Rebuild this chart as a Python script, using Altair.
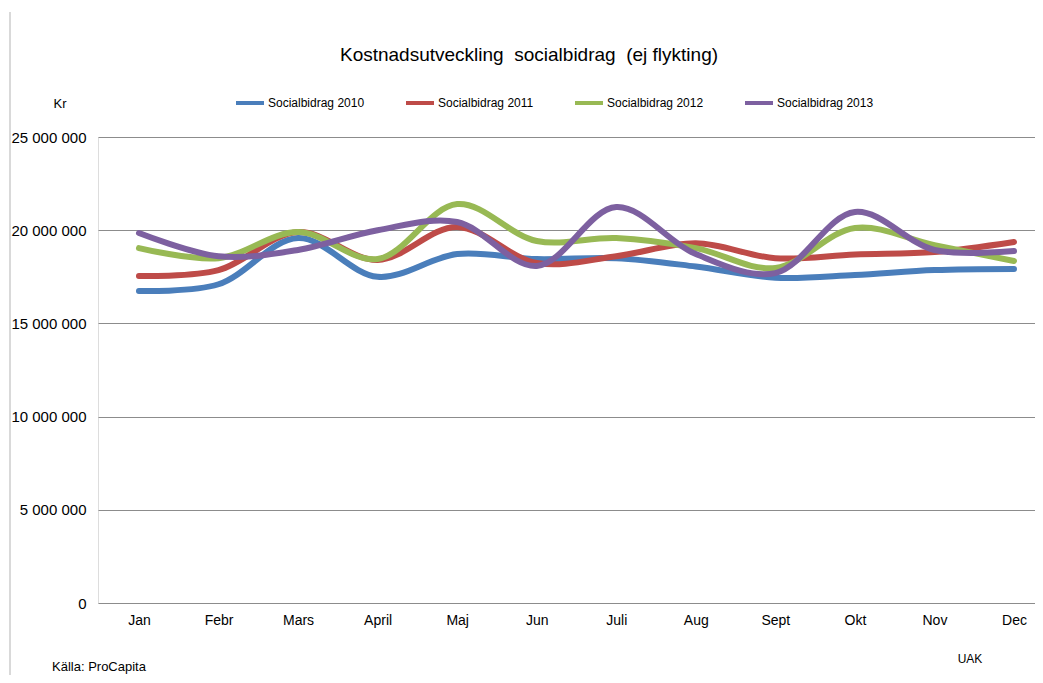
import altair as alt
import pandas as pd

months = ["Jan", "Febr", "Mars", "April", "Maj", "Jun", "Juli", "Aug", "Sept", "Okt", "Nov", "Dec"]
series_names = ["Socialbidrag 2010", "Socialbidrag 2011", "Socialbidrag 2012", "Socialbidrag 2013"]
s2010 = [16.74, 17.1, 19.58, 17.5, 18.72, 18.45, 18.5, 18.05, 17.45, 17.6, 17.86, 17.92]
s2011 = [17.54, 17.86, 19.9, 18.4, 20.17, 18.24, 18.6, 19.3, 18.5, 18.7, 18.83, 19.37]
s2012 = [19.04, 18.5, 19.9, 18.45, 21.4, 19.42, 19.58, 19.04, 17.97, 20.12, 19.2, 18.35]
s2013 = [19.85, 18.6, 18.94, 20.0, 20.44, 18.08, 21.24, 18.72, 17.7, 20.98, 18.94, 18.88]
colors = ["#4A7EBB", "#BE4B48", "#98B954", "#7D60A0"]
y_ticks = [0, 5000000, 10000000, 15000000, 20000000, 25000000]

rows = []
for name, vals in zip(series_names, [s2010, s2011, s2012, s2013]):
    for i, v in enumerate(vals):
        rows.append({"serie": name, "idx": i, "manad": months[i], "kr": v * 1_000_000})
df = pd.DataFrame(rows)

W, H = 937, 466
FONT = "Liberation Sans"

month_expr = "[" + ",".join(f"'{m}'" for m in months) + "][datum.value]"

lines = alt.Chart(df).mark_line(
    interpolate="catmull-rom", strokeWidth=6, strokeCap="round"
).encode(
    x=alt.X("idx:Q", scale=alt.Scale(domain=[-0.515, 11.264], nice=False, zero=False),
            axis=alt.Axis(values=list(range(12)), labelExpr=month_expr, title=None,
                          grid=False, domain=False, ticks=False, labelPadding=10,
                          labelFontSize=14, labelFont=FONT, labelColor="#000000")),
    y=alt.Y("kr:Q", scale=alt.Scale(domain=[0, 25000000], nice=False),
            axis=alt.Axis(values=y_ticks, title=None, domain=False, ticks=False,
                          grid=True, gridColor="#8C8C8C", gridWidth=1,
                          labelPadding=12, labelFontSize=15, labelFont=FONT,
                          labelColor="#000000",
                          labelExpr="replace(format(datum.value, ','), /,/g, ' ')")),
    color=alt.Color("serie:N", scale=alt.Scale(domain=series_names, range=colors),
                    legend=alt.Legend(orient="none", legendX=136, legendY=-50,
                                      direction="horizontal", title=None,
                                      symbolType="stroke", symbolSize=784,
                                      symbolStrokeWidth=4, labelOffset=2,
                                      columnPadding=33, labelFontSize=12,
                                      labelFont=FONT, labelColor="#000000")),
    order="idx:Q",
)

def label(text, x, y, size, align="left", weight="normal", baseline="middle"):
    return alt.Chart(pd.DataFrame({"t": [text]})).mark_text(
        align=align, baseline=baseline, fontSize=size, font=FONT, fontWeight=weight,
        color="#000000"
    ).encode(text="t:N", x=alt.value(x), y=alt.value(y))

title = label("Kostnadsutveckling\u00a0 socialbidrag\u00a0 (ej flykting)", 431, -82, 19, align="center")
kr = label("Kr", -38, -33, 13, align="center")
source = label("Källa: ProCapita", -46, 530, 13)
uak = label("UAK", 872, 522, 12, align="center")

border = alt.Chart(pd.DataFrame({"a": [0]})).mark_rule(color="#D9D9D9", strokeWidth=2).encode(
    x=alt.value(-88), y=alt.value(-125), y2=alt.value(540)
)

chart = alt.layer(border, lines, title, kr, source, uak).properties(
    width=W, height=H,
    autosize=alt.AutoSizeParams(type="none"),
    padding={"left": 90, "top": 129, "right": 0, "bottom": 72},
).configure_view(stroke=None).configure(background="#FFFFFF")

chart.save("out.html", embed_options={"renderer": "svg", "actions": False})
